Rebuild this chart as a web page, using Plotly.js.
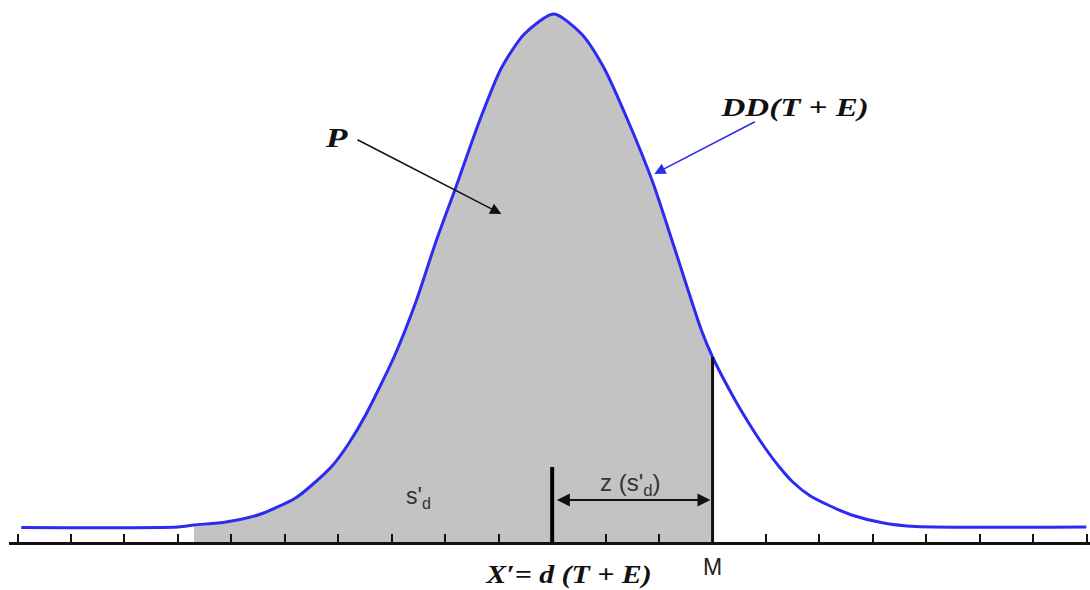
<!DOCTYPE html>
<html>
<head>
<meta charset="utf-8">
<script src="https://cdn.plot.ly/plotly-3.0.1.min.js"></script>
<style>html,body{margin:0;padding:0;background:#fff;}#chart{width:1090px;height:590px;}</style>
</head>
<body>
<div id="chart"></div>
<script>
// Curve: x in tick units (tick at the mean = 0), height above the axis line
const curveX = [-9.93, -7.0, -6.7, -6.1, -5.45, -4.8, -4.45, -4.1, -3.8, -3.5, -2.95, -2.55, -2.17, -1.8, -1.36, -0.95, -0.52, 0.03, 0.55, 0.97, 1.42, 1.88, 2.3, 2.79, 3.0, 3.41, 3.7, 3.97, 4.25, 4.5, 4.83, 5.2, 5.6, 6.2, 6.8, 9.99];
const curveY = [14.5, 15, 17, 20, 28, 44, 59, 77, 99, 126, 186, 240, 301, 355, 421, 474, 508, 528, 508, 474, 421, 360, 292, 212, 185, 143, 117, 95, 75, 60, 46, 36, 27, 19, 15.5, 15];

// Key positions on the axis
const meanX = 0;          // X' = d(T + E)
const mX = 3;             // M, z standard errors above the mean
const fillStartX = -6.7;  // where the shaded area begins
const meanBarTop = 75;
const zArrowY = 42;

// Labels
const labelP = '<b><i>P</i></b>';
const labelDD = '<b><i>DD(T + E)</i></b>';
const labelX = '<b><i>X\u2032= d (T + E)</i></b>';
const labelM = 'M';
const labelS = "s'<sub>d</sub>";
const labelZ = "z (s'<sub>d</sub>)";
// the serif labels in the reference are drawn horizontally widened
const serifStretch = {};
serifStretch[labelP] = 1.27;
serifStretch[labelDD] = 1.27;
serifStretch[labelX] = 1.15;

const fillX = [], fillY = [];
curveX.forEach((x, i) => { if (x >= fillStartX && x <= mX) { fillX.push(x); fillY.push(curveY[i]); } });
const mTop = curveY[curveX.indexOf(mX)];

const serif = "'Liberation Serif', 'Times New Roman', serif";
const sans = "'Liberation Sans', Arial, sans-serif";
const INK = '#111111';
const BLUE = '#2b2bf2';

const traces = [
  { x: fillX, y: fillY, type: 'scatter', mode: 'lines', fill: 'tozeroy', fillcolor: '#c3c3c3',
    line: { width: 0, shape: 'spline', smoothing: 0.7 }, hoverinfo: 'skip', showlegend: false },
  { x: curveX, y: curveY, type: 'scatter', mode: 'lines',
    line: { color: BLUE, width: 3, shape: 'spline', smoothing: 0.7 }, showlegend: false }
];

const H = 542; // plot-area height in px = y-range span
const layout = {
  width: 1090, height: 590,
  margin: { l: 9, r: 0, t: 0, b: 590 - H },
  paper_bgcolor: '#ffffff', plot_bgcolor: '#ffffff',
  showlegend: false,
  xaxis: { range: [-10.16, 10.06], showgrid: false, zeroline: false, showline: true, linecolor: INK, linewidth: 2.5,
           ticks: 'inside', ticklen: 8, tickwidth: 2, tickcolor: INK, dtick: 1, tick0: 0, showticklabels: false, fixedrange: true },
  yaxis: { range: [0, H], visible: false, fixedrange: true },
  shapes: [
    { type: 'line', xref: 'x', yref: 'y', x0: meanX, x1: meanX, y0: 0, y1: meanBarTop, line: { color: '#000', width: 4 } },
    { type: 'line', xref: 'x', yref: 'y', x0: mX, x1: mX, y0: 0, y1: mTop, line: { color: INK, width: 3 } }
  ],
  annotations: [
    { x: mX - 0.04, y: zArrowY, ax: meanX + 0.06, ay: zArrowY, xref: 'x', yref: 'y', axref: 'x', ayref: 'y', text: '',
      showarrow: true, arrowhead: 2, startarrowhead: 2, arrowside: 'end+start', arrowsize: 1.3, arrowwidth: 2, arrowcolor: INK },
    { x: -0.95, y: 328, ax: -3.67, ay: 403, xref: 'x', yref: 'y', axref: 'x', ayref: 'y', text: '',
      showarrow: true, arrowhead: 2, arrowsize: 1.5, arrowwidth: 1.5, arrowcolor: INK },
    { x: 1.91, y: 368, ax: 3.82, ay: 421, xref: 'x', yref: 'y', axref: 'x', ayref: 'y', text: '',
      showarrow: true, arrowhead: 2, arrowsize: 1.5, arrowwidth: 1.5, arrowcolor: BLUE },
    { x: -4.04, y: 405, xref: 'x', yref: 'y', text: labelP, showarrow: false, font: { family: serif, size: 28, color: INK } },
    { x: 4.53, y: 435, xref: 'x', yref: 'y', text: labelDD, showarrow: false, font: { family: serif, size: 26, color: INK } },
    { x: 0.3, y: -32 / H, xref: 'x', yref: 'paper', yanchor: 'middle', text: labelX, showarrow: false, font: { family: serif, size: 26, color: INK } },
    { x: mX, y: -25 / H, xref: 'x', yref: 'paper', yanchor: 'middle', text: labelM, showarrow: false, font: { family: sans, size: 23, color: '#222' } },
    { x: -2.5, y: 45, xref: 'x', yref: 'y', text: labelS, showarrow: false, font: { family: sans, size: 23, color: '#333' } },
    { x: 1.46, y: 58, xref: 'x', yref: 'y', text: labelZ, showarrow: false, font: { family: sans, size: 24, color: '#333' } }
  ]
};

Plotly.newPlot('chart', traces, layout, { staticPlot: true, displayModeBar: false }).then(gd => {
  gd.querySelectorAll('text.annotation-text').forEach(t => {
    const s = serifStretch[t.getAttribute('data-unformatted')];
    if (!s) return;
    const bb = t.getBBox();
    const cx = bb.x + bb.width / 2;
    const prev = t.getAttribute('transform') || '';
    t.setAttribute('transform', prev + ` translate(${cx} 0) scale(${s} 1) translate(${-cx} 0)`);
  });
});
</script>
</body>
</html>
